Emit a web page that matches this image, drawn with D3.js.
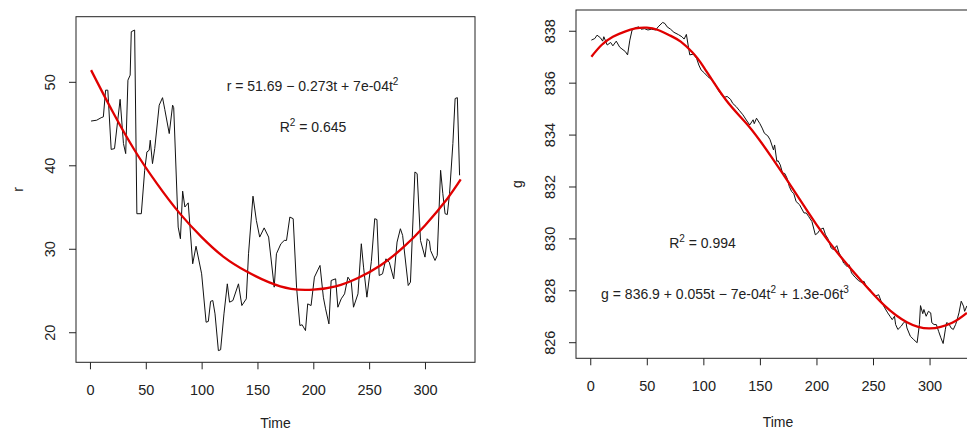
<html>
<script src="https://d3js.org/d3.v7.min.js"></script>
<body style="margin:0;background:#fff">
<script>
// values
var tR = [1,6,10,12,14,16,19,22,27,30,32,34,36,37,40,42,46,49,51,53,54,56,58,62,65,67,71,74,75,79,81,83,85,88,92,95,100,104,106,108,110,112,115,117,120,123,125,128,133,136,140,142,146,149,152,156,160,165,167,171,174,176,179,182,185,188,190,193,195,198,201,206,209,211,214,216,220,222,225,228,231,234,236,240,243,245,248,252,255,257,259,262,265,268,272,275,278,280,285,287,291,293,296,300,302,304,305,309,311,314,316,318,320,322,325,327,329,331]
var rVals = [45.3,45.4,45.7,45.8,49.0,49.0,41.9,42.0,47.9,42.6,41.4,50.2,50.8,56.0,56.2,34.2,34.2,39.4,41.6,41.8,43.0,40.2,42.0,47.2,48.1,46.7,43.8,47.2,46.9,32.6,31.2,36.9,35.0,35.5,28.2,30.3,27.0,21.2,21.3,23.7,23.8,22.2,17.8,17.9,22.2,25.8,23.6,23.8,25.8,23.2,24.0,29.4,36.3,33.4,31.4,32.5,31.4,25.4,29.4,30.6,31.0,31.0,33.8,33.6,25.4,20.8,20.9,20.2,23.4,23.2,26.6,28.0,24.2,22.8,21.0,26.2,26.4,23.0,24.0,24.6,26.6,26.0,23.0,24.6,30.6,27.8,24.2,28.5,33.6,33.5,26.8,27.0,28.8,28.4,26.4,30.8,32.4,31.6,25.6,26.0,39.2,39.0,31.0,29.0,31.2,30.9,29.8,28.6,29.2,39.4,36.6,34.2,34.1,36.6,42.6,48.0,48.1,38.8]
var rFitT = [1,20,40,60,80,100,120,140,160,180,200,220,240,260,280,300,320,332]
var rFit = [51.4,46.5,41.8,37.8,34.3,31.4,29.0,27.3,26.0,25.2,25.1,25.5,26.5,28.0,30.1,32.8,36.0,38.3]

var tG = [1,4,6,9,11,12,15,18,20,23,26,28,31,33,35,37,40,43,45,48,51,54,58,60,64,66,68,71,74,78,81,83,85,87,88,91,94,96,98,101,104,107,110,113,116,119,121,124,126,129,132,135,138,141,144,145,147,150,152,154,157,159,162,163,165,166,168,170,172,174,176,178,180,182,185,189,191,193,196,199,201,203,206,208,210,213,215,218,220,222,224,227,229,231,234,237,240,242,244,247,250,252,255,257,258,260,263,265,267,269,270,272,275,277,279,280,283,286,289,291,292,294,295,297,299,301,302,304,306,308,310,312,314,315,317,319,321,323,324,326,328,330,331,333]
var gVals = [837.64,837.7,837.83,837.73,837.6,837.77,837.45,837.55,837.42,837.6,837.37,837.3,837.2,837.07,837.64,838.03,838.12,838.15,838.06,838.08,838.03,838.06,838.03,838.15,838.32,838.28,838.15,838.06,837.94,837.85,837.77,837.68,837.86,837.32,837.07,837.1,836.94,836.68,836.49,836.37,836.23,836.13,835.98,835.72,835.53,835.44,835.47,835.36,835.2,835.08,834.92,834.76,834.56,834.37,834.57,834.42,834.63,834.42,834.25,834.05,833.95,833.8,833.41,833.6,832.96,833.0,832.83,832.52,832.5,832.32,832.0,831.81,831.72,831.42,831.3,830.98,830.98,830.85,830.65,830.14,830.2,830.33,830.4,830.14,830.0,829.63,829.57,829.72,829.44,829.28,829.05,828.92,828.98,828.67,828.51,828.38,828.3,828.35,828.15,828.05,827.87,827.77,827.83,827.6,827.52,827.35,827.13,827.0,826.87,827.0,826.68,826.49,826.62,826.75,826.81,826.55,826.23,826.1,825.98,826.68,827.41,827.1,827.26,827.0,827.19,827.13,826.75,826.68,826.68,826.42,826.17,825.95,826.5,826.75,826.72,826.55,826.49,826.68,826.81,827.13,827.58,827.39,827.19,827.4]
var gFitT = [1,10,20,30,40,50,60,70,80,90,100,120,140,160,180,200,220,240,260,280,300,320,333]
var gFit = [837.0,837.45,837.77,837.96,838.09,838.12,838.03,837.83,837.58,837.18,836.62,835.33,834.33,833.15,831.85,830.53,829.37,828.35,827.42,826.77,826.53,826.75,827.13]

var xTicks = [0,50,100,150,200,250,300]
var rTicks = [20,30,40,50]
var gTicks = [826,828,830,832,834,836,838]

var font = '"Liberation Sans", Arial, sans-serif'
var svg = d3.select('body').append('svg').attr('width', 967).attr('height', 430)
    .style('display','block').style('overflow','hidden').style('font-family', font)
svg.append('rect').attr('width', 967).attr('height', 430).attr('fill', 'white')

function panel(o) {
    var x = d3.scaleLinear().domain(o.xdom).range([o.left, o.right])
    var y = d3.scaleLinear().domain(o.ydom).range([o.bottom, o.top])
    var g = svg.append('g')

    var xa = g.append('g').attr('transform', `translate(0,${o.bottom})`)
        .call(d3.axisBottom(x).tickValues(xTicks).tickSize(7).tickSizeOuter(0).tickFormat(d3.format('d')))
    xa.select('.domain').remove()
    xa.selectAll('line').attr('stroke', '#222')
    xa.selectAll('text').attr('y', 32.5).attr('dy', 0).attr('fill', '#222')
        .style('font-size', '14.5px').style('font-family', font)

    var ya = g.append('g').attr('transform', `translate(${o.left},0)`)
        .call(d3.axisLeft(y).tickValues(o.yticks).tickSize(7).tickSizeOuter(0).tickFormat(d3.format('d')))
    ya.select('.domain').remove()
    ya.selectAll('line').attr('stroke', '#222')
    ya.selectAll('text').attr('transform', 'rotate(-90)').attr('x', 0).attr('y', -21.5).attr('dy', 0)
        .attr('text-anchor', 'middle').attr('fill', '#222')
        .style('font-size', '14.5px').style('font-family', font)

    var clip = 'clip' + o.name
    g.append('clipPath').attr('id', clip).append('rect')
        .attr('x', o.left).attr('y', o.top).attr('width', o.right - o.left).attr('height', o.bottom - o.top)

    var line = d3.line().x(function(d){return x(d[0])}).y(function(d){return y(d[1])})
    g.append('path').datum(d3.zip(o.t, o.v)).attr('d', line)
        .attr('fill', 'none').attr('stroke', '#111').attr('stroke-width', 1).attr('clip-path', `url(#${clip})`)
    g.append('path').datum(d3.zip(o.ft, o.fv)).attr('d', line.curve(d3.curveNatural))
        .attr('fill', 'none').attr('stroke', '#e00000').attr('stroke-width', 2.3).attr('clip-path', `url(#${clip})`)

    g.append('rect').attr('x', o.left).attr('y', o.top)
        .attr('width', o.right - o.left).attr('height', o.bottom - o.top)
        .attr('fill', 'none').attr('stroke', '#222').attr('stroke-width', 1)

    g.append('text').attr('x', (o.left + o.right) / 2).attr('y', o.timeY).attr('text-anchor', 'middle')
        .attr('fill', '#222').style('font-size', '14px').text('Time')
    g.append('text').attr('transform', `translate(${o.labX},${(o.top + o.bottom) / 2}) rotate(-90)`)
        .attr('text-anchor', 'middle').attr('fill', '#222').style('font-size', '14px').text(o.name)
}

function formula(x, y, parts) {
    var t = svg.append('text').attr('x', x).attr('y', y).attr('text-anchor', 'middle')
        .attr('fill', '#222').style('font-size', '14px')
    var up = false
    parts.forEach(function(p) {
        var s = t.append('tspan').text(p[0])
        if (p[1]) { s.attr('dy', -6).style('font-size', '10px'); up = true }
        else if (up) { s.attr('dy', 6); up = false }
    })
}

panel({name: 'r', t: tR, v: rVals, ft: rFitT, fv: rFit, yticks: rTicks,
       xdom: [-12.5, 344.8], ydom: [16.4, 57.8], left: 76, right: 475, top: 16.7, bottom: 362.3,
       timeY: 427.5, labX: 23})
panel({name: 'g', t: tG, v: gVals, ft: gFitT, fv: gFit, yticks: gTicks,
       xdom: [-12.6, 344.6], ydom: [825.38, 838.8], left: 576, right: 980, top: 10, bottom: 358.3,
       timeY: 426.5, labX: 522})

formula(312.5, 90.5, [['r = 51.69 \u2212 0.273t + 7e-04t'], ['2', 1]])
formula(313, 131.5, [['R'], ['2', 1], [' = 0.645']])
formula(702.5, 247.5, [['R'], ['2', 1], [' = 0.994']])
formula(725, 299.3, [['g = 836.9 + 0.055t \u2212 7e-04t'], ['2', 1], [' + 1.3e-06t'], ['3', 1]])
</script>
</body>
</html>
